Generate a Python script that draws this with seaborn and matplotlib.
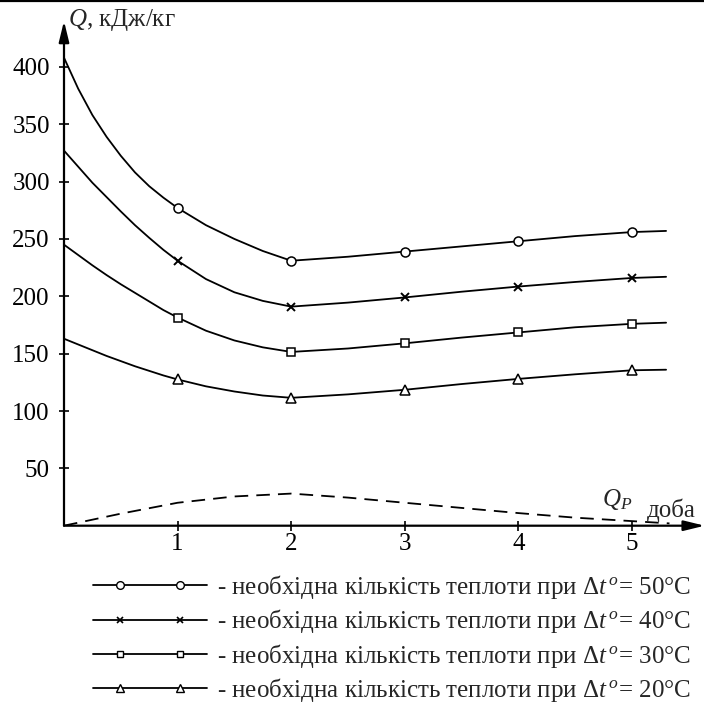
import numpy as np
import pandas as pd
import matplotlib
matplotlib.use("Agg")
import matplotlib.pyplot as plt
import seaborn as sns
from matplotlib.lines import Line2D
from matplotlib.legend_handler import HandlerLine2D, HandlerTuple

# ---------------- data ----------------
x_curve = [0, 0.125, 0.25, 0.375, 0.5, 0.625, 0.75, 0.875, 1,
           1.25, 1.5, 1.75, 2, 2.5, 3, 3.5, 4, 4.5, 5, 5.3]
q50 = [408, 381, 358, 339, 322.5, 308, 296, 286, 277,
       262, 250, 239.5, 231, 234.5, 239, 243.5, 248, 252.5, 256, 257]
q40 = [327, 313, 299, 286.5, 274, 262, 251, 240.5, 231,
       215, 203.5, 196, 191, 194.5, 199, 204, 208.5, 212.5, 216, 217]
q30 = [245, 236, 227, 218.5, 210.5, 203, 195.5, 188, 181.5,
       170, 161.5, 155.5, 151.5, 154.5, 159, 164, 168.5, 173, 176, 177]
q20 = [163, 158, 153, 148, 143.5, 139, 135, 131, 127.5,
       121.5, 117, 113.5, 111.5, 114.5, 118.5, 123.5, 128, 132, 135.5, 136]
marker_x = [1, 2, 3, 4, 5]

x_qp = [0, 0.5, 1, 1.5, 2, 2.5, 3, 3.5, 4, 4.5, 5, 5.33]
qp = [0, 10.5, 20, 25.5, 28, 24.5, 20, 15.5, 11, 7, 4, 2]

series_names = ["50", "40", "30", "20"]
series_vals = [q50, q40, q30, q20]
markers = ["o", "x", "s", "^"]
labels = [r"- необхідна кількість теплоти при $\Delta t^{\,o}$= %s°C" % s for s in series_names]
y_ticks = [50, 100, 150, 200, 250, 300, 350, 400]
x_ticks = [1, 2, 3, 4, 5]

# ---------------- style ----------------
sns.set_style("white")
plt.rcParams["font.family"] = ["Liberation Serif", "DejaVu Serif"]
plt.rcParams["mathtext.fontset"] = "custom"
plt.rcParams["mathtext.rm"] = "Liberation Serif"
plt.rcParams["mathtext.it"] = "Liberation Serif:italic"
plt.rcParams["mathtext.bf"] = "Liberation Serif:bold"

FS = 18
FSPX = FS * 100 / 72
W, H = 704, 706
fig = plt.figure(figsize=(W / 100, H / 100), dpi=100)

x0_px, y0_px = 64.0, 525.7
xmax, ymax = 5.64, 440
px_per_x, px_per_y = 113.6, 1.147
ax = fig.add_axes([x0_px / W, (H - y0_px) / H,
                   xmax * px_per_x / W, ymax * px_per_y / H])
ax.set_xlim(0, xmax)
ax.set_ylim(0, ymax)
ax.patch.set_alpha(0)

frames = []
for name, vals in zip(series_names, series_vals):
    frames.append(pd.DataFrame({"x": x_curve, "Q": vals, "series": name}))
df = pd.concat(frames, ignore_index=True)

sizes = {"o": 6.5, "x": 5.5, "s": 5.5, "^": 7.5}
for name, m in zip(series_names, markers):
    d = df[df.series == name]
    sns.lineplot(data=d, x="x", y="Q", ax=ax, color="black", lw=1.3,
                 estimator=None, sort=False, legend=False)
    dm = d[d.x.isin(marker_x)]
    ax.plot(dm.x, dm.Q, linestyle="none", marker=m, ms=sizes[m],
            mfc="white" if m != "x" else "black", mec="black",
            mew=1.4 if m == "x" else 1.1, zorder=5)

dq = pd.DataFrame({"x": x_qp, "Q": qp})
sns.lineplot(data=dq, x="x", y="Q", ax=ax, color="black", lw=1.3,
             dashes=False, legend=False)
ax.lines[-1].set_dashes((7.5, 4.5))

# axes: arrows instead of spines
for s in ax.spines.values():
    s.set_visible(False)
arrow_kw = dict(arrowstyle="-|>,head_length=0.9,head_width=0.22",
                lw=1.6, color="black", mutation_scale=14,
                shrinkA=0, shrinkB=0)
ax.annotate("", xy=(0, ymax), xytext=(0, 0), xycoords="data",
            arrowprops=arrow_kw, annotation_clip=False)
ax.annotate("", xy=(xmax, 0), xytext=(0, 0), xycoords="data",
            arrowprops=arrow_kw, annotation_clip=False)

ax.set_xticks(x_ticks)
ax.set_yticks(y_ticks)
ax.set_xticklabels([str(v) for v in x_ticks])
ax.set_yticklabels([str(v) for v in y_ticks])
ax.tick_params(axis="both", direction="inout", length=6.5, width=1.2,
               labelsize=FS, colors="black", left=True, bottom=True)
ax.tick_params(axis="y", pad=7.0)
ax.tick_params(axis="x", pad=2.0)
ax.set_xlabel("")
ax.set_ylabel("")

ax.text(0.035, 441, r"$Q$, кДж/кг", fontsize=FS, ha="left", va="center",
        clip_on=False)
ax.text(4.74, 23, r"$Q_P$", fontsize=FS, ha="left", va="center", clip_on=False)
ax.text(5.13, 13.5, "доба", fontsize=FS, ha="left", va="center", clip_on=False)

# top border line
fig.add_artist(Line2D([0, 1], [1 - 1.2 / H, 1 - 1.2 / H], color="black",
                      lw=1.6, transform=fig.transFigure))

# legend: full-width line plus two inset markers
handles = []
hmap = {}
for m in markers:
    ln = Line2D([], [], color="black", lw=1.3)
    mk = Line2D([], [], linestyle="none", marker=m, ms=sizes[m] * 0.85,
                mfc="white" if m != "x" else "black", mec="black",
                mew=1.2 if m == "x" else 1.0)
    hmap[ln] = HandlerLine2D(numpoints=1)
    hmap[mk] = HandlerLine2D(numpoints=2, marker_pad=27 / FSPX)
    handles.append((ln, mk))
hmap[tuple] = HandlerTuple(ndivide=1, pad=0)

leg = fig.legend(handles, labels, loc="upper left",
                 bbox_to_anchor=(93 / W, 1 - 573 / H), frameon=False,
                 fontsize=FS, handlelength=114 / FSPX,
                 handletextpad=10 / FSPX,
                 labelspacing=0.25, borderpad=0, borderaxespad=0,
                 handler_map=hmap)

fig.savefig("out.png", dpi=100)
